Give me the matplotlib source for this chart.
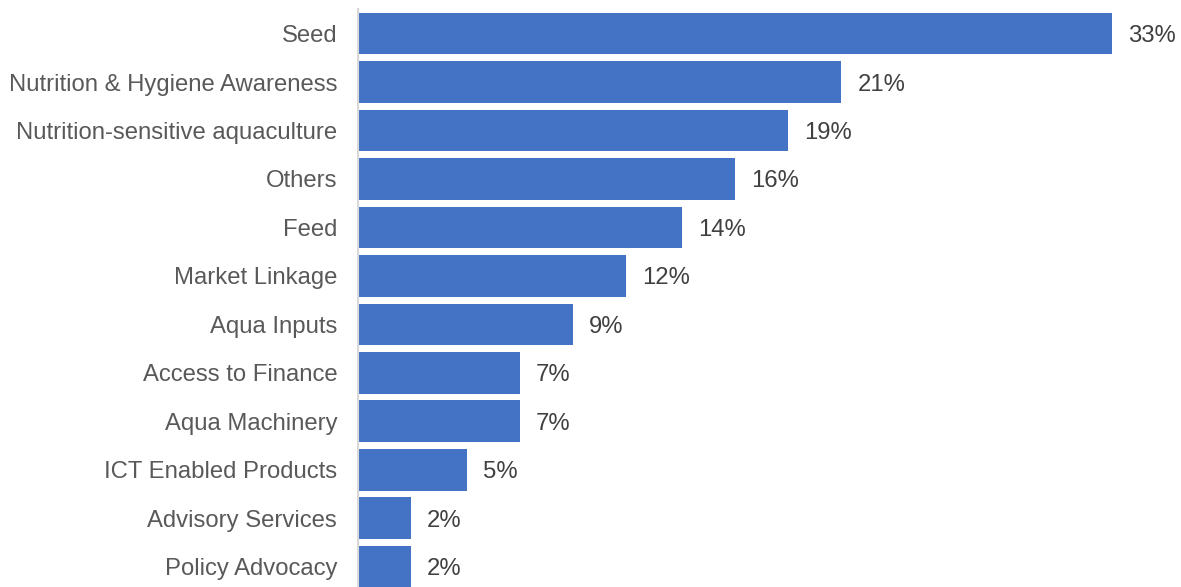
import matplotlib
matplotlib.use("Agg")
import matplotlib.pyplot as plt

# Share of responses per intervention area (percent)
categories = [
    "Seed",
    "Nutrition & Hygiene Awareness",
    "Nutrition-sensitive aquaculture",
    "Others",
    "Feed",
    "Market Linkage",
    "Aqua Inputs",
    "Access to Finance",
    "Aqua Machinery",
    "ICT Enabled Products",
    "Advisory Services",
    "Policy Advocacy",
]
shares = [32.6, 20.9, 18.6, 16.3, 14.0, 11.6, 9.3, 7.0, 7.0, 4.7, 2.3, 2.3]

plt.rcParams["font.family"] = ["Liberation Sans", "DejaVu Sans"]

W, H = 1181, 587
FS = 17.2
fig = plt.figure(figsize=(W / 100, H / 100), dpi=100)
ax_left = 358 / W
ax_top = 1 - 9.3 / H
ax_bottom = 1 - 591 / H
ax = fig.add_axes([ax_left, ax_bottom, 1 - ax_left, ax_top - ax_bottom])

y = list(range(len(categories)))
ax.barh(y, shares, height=0.86, color="#4472C4", zorder=2)

for yi, v in zip(y, shares):
    ax.annotate(f"{v:.0f}%", xy=(v, yi), xytext=(11.5, 0),
                textcoords="offset points", va="center_baseline", ha="left",
                fontsize=FS, color="#404040")

ax.set_yticks(y)
ax.set_yticklabels(categories, fontsize=FS, color="#595959")
ax.set_ylim(len(categories) - 0.5, -0.5)
ax.set_xlim(0, (W - 358) / 23.13)

ax.tick_params(axis="y", length=0, pad=15)
ax.set_xticks([])
for side in ("top", "right", "bottom"):
    ax.spines[side].set_visible(False)
ax.spines["left"].set_color("#D9D9D9")
ax.spines["left"].set_linewidth(1.5)

fig.savefig("out.png", dpi=100)
